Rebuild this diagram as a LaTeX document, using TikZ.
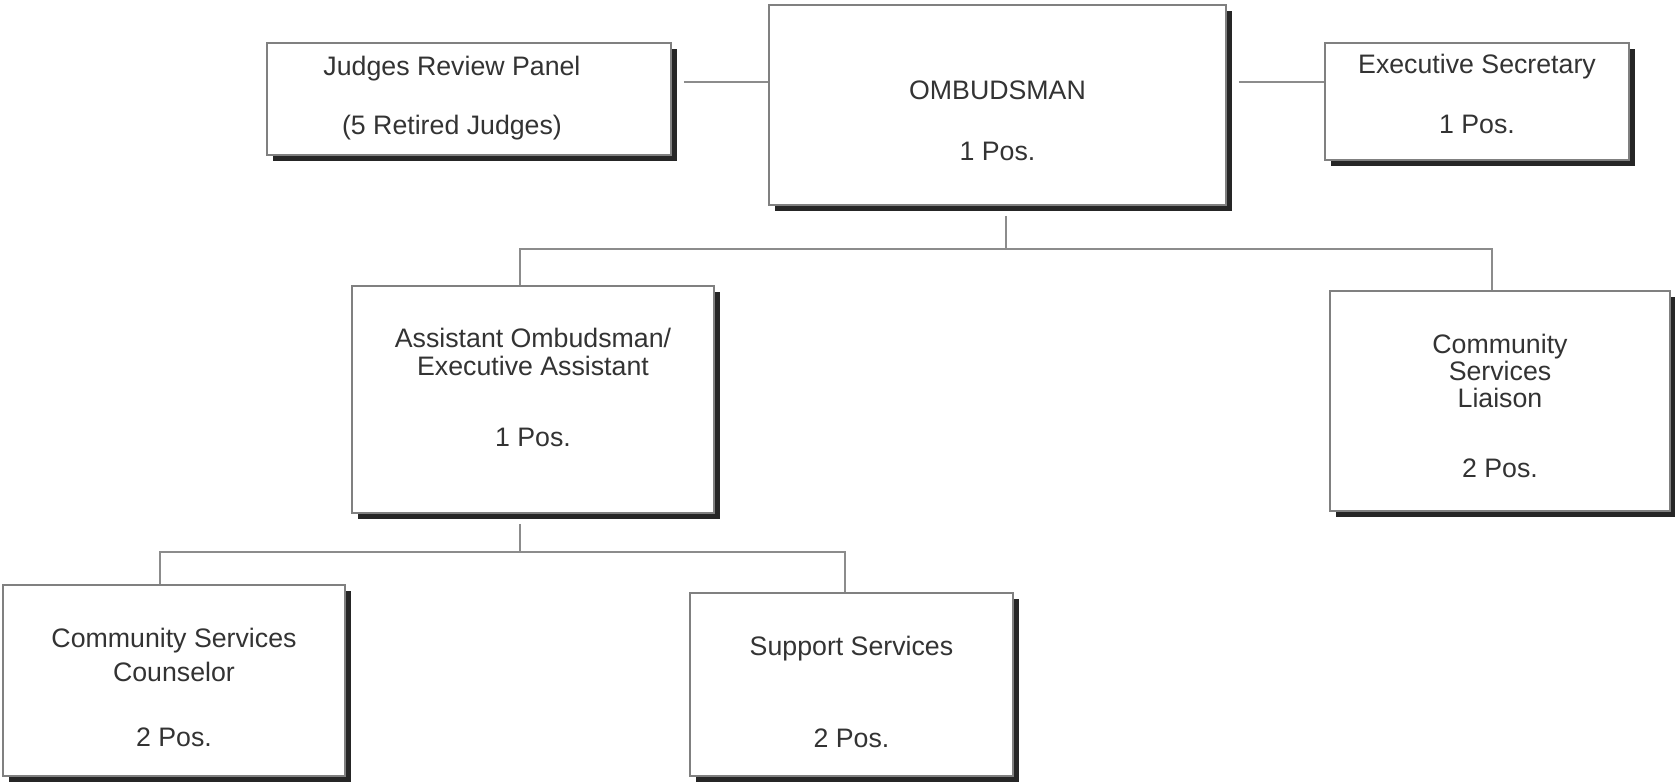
\documentclass[tikz,border=0pt]{standalone}
\usepackage{fontspec}
\setmainfont{Liberation Sans}
\usetikzlibrary{shadows}

\begin{document}
\begin{tikzpicture}[x=0.01cm, y=-0.01cm,
  box/.style={draw=black!50, line width=0.4pt, fill=white, inner sep=0pt,
    drop shadow={shadow xshift=0.06cm, shadow yshift=-0.06cm, fill=black!85, opacity=1}},
  tag/.style={align=center, text=black!80, inner sep=0pt,
    font=\fontsize{7.6}{8.5}\selectfont},
  wire/.style={draw=black!45, line width=0.4pt}]
\useasboundingbox (0,0) rectangle (1675,782);

% top row
\node (judges) [box, minimum width=4.04cm, minimum height=1.12cm] at (469,99) {};
\node (omb) [box, minimum width=4.57cm, minimum height=2.00cm] at (997.5,105) {};
\node (exec) [box, minimum width=3.04cm, minimum height=1.17cm] at (1477,101.5) {};

% middle row
\node (asst) [box, minimum width=3.62cm, minimum height=2.27cm] at (533,399.5) {};
\node (liaison) [box, minimum width=3.40cm, minimum height=2.20cm] at (1500,401) {};

% bottom row
\node (counsel) [box, minimum width=3.42cm, minimum height=1.91cm] at (174,680.5) {};
\node (support) [box, minimum width=3.23cm, minimum height=1.83cm] at (851.5,684.5) {};

% titles
\node (judges-t) [tag, xshift=-0.17cm, yshift=0.01cm] at (judges)
  {Judges Review Panel\\[8.2pt](5 Retired Judges)};
\node (omb-t) [tag, yshift=-0.16cm] at (omb) {OMBUDSMAN\\[9pt]1 Pos.};
\node (exec-t) [tag, yshift=0.075cm] at (exec) {Executive Secretary\\[8.5pt]1 Pos.};
\node (asst-t) [tag, yshift=0.12cm] at (asst)
  {Assistant Ombudsman/\\[-0.6pt]Executive Assistant\\[11.5pt]1 Pos.};
\node (liaison-t) [tag, yshift=-0.05cm] at (liaison)
  {Community\\[-0.9pt]Services\\[-0.9pt]Liaison\\[11.5pt]2 Pos.};
\node (counsel-t) [tag, yshift=-0.07cm] at (counsel)
  {Community Services\\[1.2pt]Counselor\\[10pt]2 Pos.};
\node (support-t) [tag, yshift=-0.075cm] at (support)
  {Support Services\\[17.5pt]2 Pos.};

% staff lines
\coordinate (tie) at (0,82);
\draw[wire, shorten <=0.12cm] (judges.east |- tie) -- (omb.west |- tie);
\draw[wire, shorten <=0.12cm] (omb.east |- tie) -- (exec.west |- tie);

% line of command
\coordinate (hub) at (1006,249);
\coordinate (toasst) at (520,249);
\coordinate (toliaison) at (1492,249);
\draw[wire, shorten <=0.1cm] (hub |- omb.south) -- (hub);
\draw[wire] (toasst |- asst.north) -- (toasst) -- (toliaison) -- (toliaison |- liaison.north);

\coordinate (subhub) at (520,552);
\coordinate (tocounsel) at (160,552);
\coordinate (tosupport) at (845,552);
\draw[wire, shorten <=0.1cm] (subhub |- asst.south) -- (subhub);
\draw[wire] (tocounsel |- counsel.north) -- (tocounsel) -- (tosupport) -- (tosupport |- support.north);
\end{tikzpicture}
\end{document}
